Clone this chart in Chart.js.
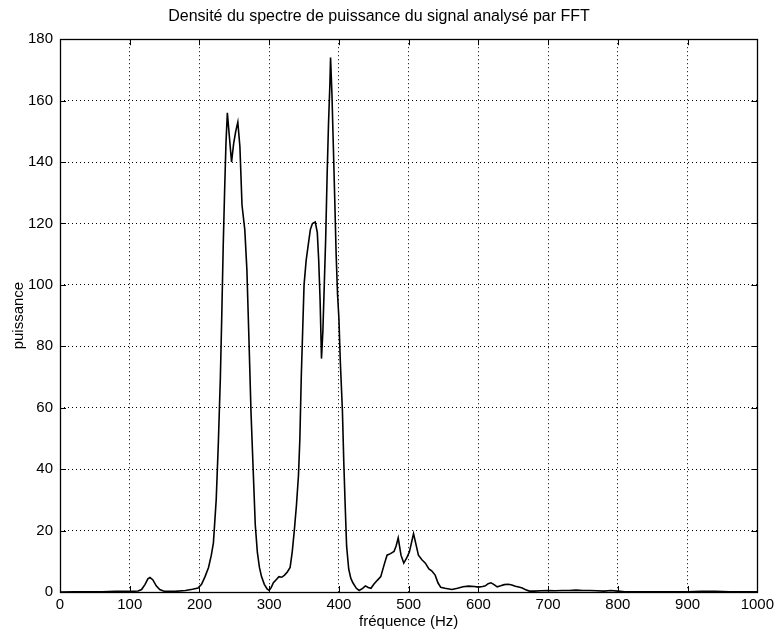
<!DOCTYPE html>
<html>
<head>
<meta charset="utf-8">
<script src="https://cdn.jsdelivr.net/npm/chart.js@4"></script>
<style>
html,body{margin:0;padding:0;background:#fff;}
#wrap{width:778px;height:633px;position:relative;}
</style>
</head>
<body>
<div id="wrap"><canvas id="c" width="778" height="633"></canvas></div>
<script>
const titleText = "Densité du spectre de puissance du signal analysé par FFT";
const xAxisTitle = "fréquence (Hz)";
const yAxisTitle = "puissance";
const xTickValues = [0,100,200,300,400,500,600,700,800,900,1000];
const yTickValues = [0,20,40,60,80,100,120,140,160,180];

const freq = [0,20,40,60,80,100,112,117,122,126,129,133,138,143,150,165,180,190,198,203,208,213,217,220,224,227,230,232,234,236,238,240,243,246,249,252,255,258,261,265,268,271,274,277,280,283,286,289,293,297,300,303,306,310,314,318,322,326,330,333,336,339,342,344,346,348,350,353,356,359,362,366,369,371,373,375,377,379,381,383,385,387,388,390,392,394,396,398,400,402,405,407,409,411,414,417,420,425,429,434,438,442,446,450,455,460,465,469,474,479,482,485,489,493,497,501,504,507,510,514,519,524,529,533,538,542,546,552,562,570,578,586,594,600,606,610,614,618,622,627,632,637,643,648,653,658,663,668,673,680,690,700,710,720,730,740,750,760,770,780,790,800,810,830,850,870,900,920,940,960,980,1000];
const power = [0,0.1,0.1,0.1,0.2,0.2,0.3,0.8,2.5,4.3,4.7,4,2,0.8,0.2,0.2,0.5,0.9,1.3,2.5,5,8,12,16,30,48,70,90,112,130,146,156,148,140,146,150,153,145,126,118,105,82,58,40,22,13,8,5,2.5,1,0.5,1.5,3,4,5,4.8,5.5,6.5,8,13,20,28,38,50,70,85,100,108,113,118,120,120.5,117,108,95,76,85,100,115,135,152,165,174,162,145,128,110,97,89,75,59,42,28,15,7.5,4.5,3,1.2,0.5,1.2,2,1.5,1.2,2.5,3.8,5,9,12,12.5,13.2,15,17.6,12,9.4,11,13,16,19,16,12,10.5,9.4,7.5,6.9,5.5,3,1.5,1.2,0.8,1.2,1.7,1.9,1.8,1.6,1.8,2,2.7,3,2.5,1.7,2,2.4,2.5,2.3,1.9,1.6,1.3,0.7,0.3,0.3,0.4,0.5,0.4,0.5,0.5,0.6,0.5,0.5,0.4,0.3,0.5,0.3,0.1,0.1,0.1,0.1,0.1,0.2,0.2,0.1,0.1,0.1];

const points = freq.map((f,i)=>({x:f,y:power[i]}));
const FONT = "'Liberation Sans', Arial, sans-serif";

const framePlugin = {
  id:'frame',
  afterDraw(chart){
    const {ctx, chartArea:a, scales:{x,y}} = chart;
    ctx.save();
    ctx.strokeStyle='#000';
    ctx.lineWidth=1;
    ctx.setLineDash([]);
    ctx.beginPath();
    xTickValues.forEach(v=>{
      const px = Math.round(x.getPixelForValue(v))+0.5;
      ctx.moveTo(px,a.bottom); ctx.lineTo(px,a.bottom-6);
      ctx.moveTo(px,a.top); ctx.lineTo(px,a.top+6);
    });
    yTickValues.forEach(v=>{
      const py = Math.round(y.getPixelForValue(v))+0.5;
      ctx.moveTo(a.left,py); ctx.lineTo(a.left+6,py);
      ctx.moveTo(a.right,py); ctx.lineTo(a.right-6,py);
    });
    ctx.stroke();
    ctx.lineWidth=1.3;
    ctx.strokeRect(Math.round(a.left)+0.5, Math.round(a.top)+0.5, Math.round(a.right-a.left), Math.round(a.bottom-a.top));
    ctx.restore();
  }
};

new Chart(document.getElementById('c'), {
  type:'line',
  data:{datasets:[{data:points, borderColor:'#000', borderWidth:1.6, pointRadius:0, tension:0, fill:false}]},
  options:{
    responsive:false, animation:false, maintainAspectRatio:false,
    layout:{padding:{left:0,right:20,top:0,bottom:0}},
    plugins:{
      legend:{display:false}, tooltip:{enabled:false},
      title:{display:true, text:titleText, color:'#000', font:{family:FONT,size:16,weight:'normal'}, padding:{top:7,bottom:13}}
    },
    scales:{
      x:{type:'linear', min:0, max:1000,
        afterBuildTicks(s){ s.ticks = xTickValues.map(v=>({value:v})); },
        afterFit(s){ s.height = 41; },
        ticks:{color:'#000', font:{family:FONT,size:15}, padding:4, maxRotation:0, autoSkip:false, callback:v=>String(v)},
        grid:{color:'#000', lineWidth:1, drawTicks:false, tickLength:0},
        border:{display:false, dash:[1,3]},
        title:{display:true, text:xAxisTitle, color:'#000', font:{family:FONT,size:15}, padding:{top:0,bottom:2}}
      },
      y:{type:'linear', min:0, max:180,
        afterBuildTicks(s){ s.ticks = yTickValues.map(v=>({value:v})); },
        afterFit(s){ s.width = 60; },
        ticks:{color:'#000', font:{family:FONT,size:15}, padding:7, autoSkip:false, callback:v=>String(v)},
        grid:{color:'#000', lineWidth:1, drawTicks:false, tickLength:0},
        border:{display:false, dash:[1,3]},
        title:{display:true, text:yAxisTitle, color:'#000', font:{family:FONT,size:15}, padding:{top:10,bottom:0}}
      }
    }
  },
  plugins:[framePlugin]
});
</script>
</body>
</html>
